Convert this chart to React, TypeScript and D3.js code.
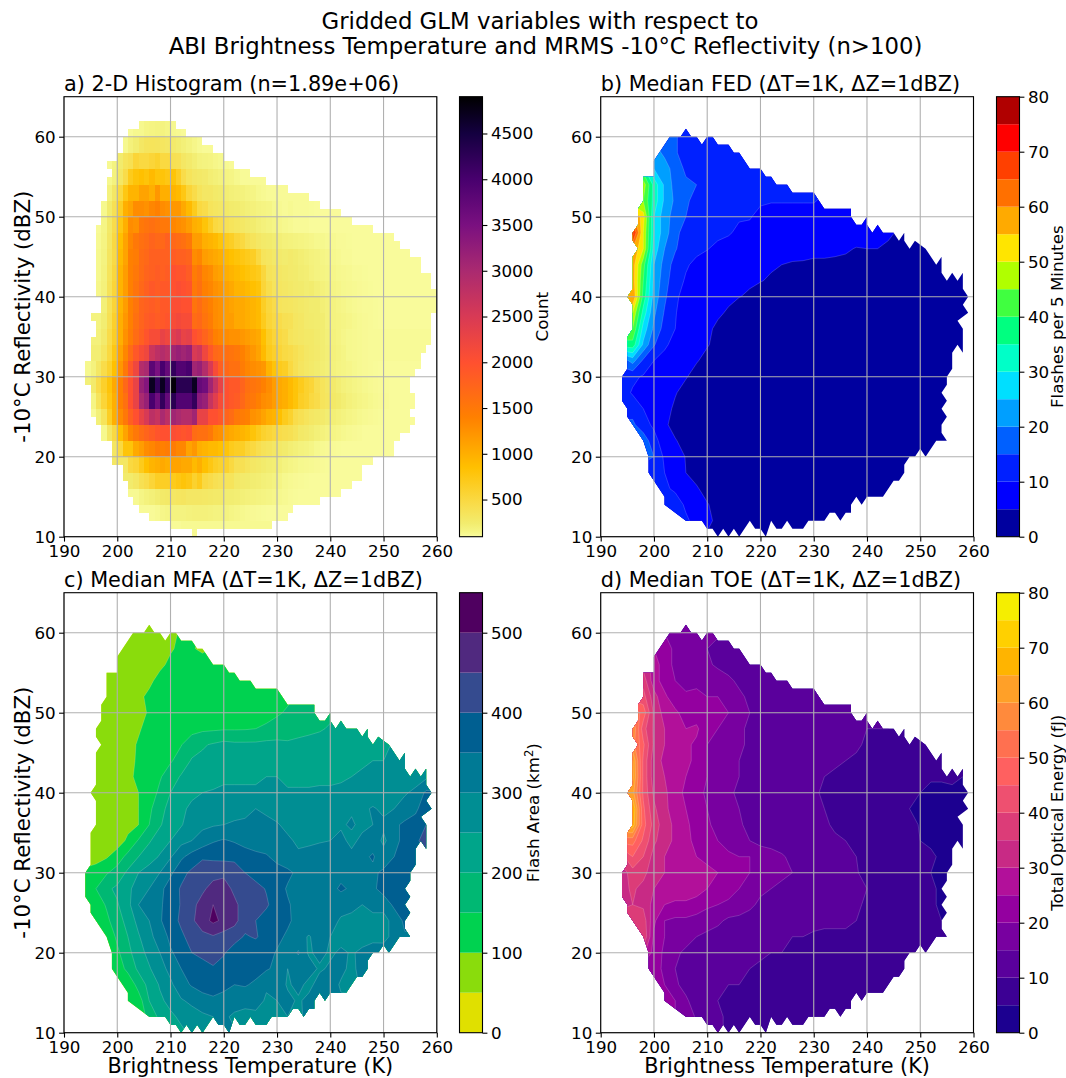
import { useEffect, useRef } from "react";
import * as d3 from "d3";

const _ = null;

// ---- axes and levels
const xTicks = [190, 200, 210, 220, 230, 240, 250, 260];
const yTicks = [10, 20, 30, 40, 50, 60];
const histTicks = [500, 1000, 1500, 2000, 2500, 3000, 3500, 4000, 4500];
const fedLevels = [0, 5, 10, 15, 20, 25, 30, 35, 40, 45, 50, 55, 60, 65, 70, 75, 80];
const mfaLevels = [0, 50, 100, 150, 200, 250, 300, 350, 400, 450, 500, 550];
const toeLevels = fedLevels;

const fedColors = ["#00009f", "#0000ff", "#0020ff", "#0060ff", "#009fff", "#00dfff", "#00ffc8", "#00ff80", "#40ff40", "#b0ff00", "#ffe500", "#ffaa00", "#ff7000", "#ff4000", "#ff0000", "#b00000"];
const mfaColors = ["#e0e000", "#8adc0c", "#00d250", "#00b873", "#00a58a", "#008e93", "#007a95", "#005f91", "#354b8f", "#50297f", "#4f0060"];
const toeColors = ["#1c0090", "#3c0094", "#5a009c", "#7800a0", "#9400a0", "#b2109a", "#c82a85", "#dc3c78", "#ee5070", "#ff6060", "#ff7050", "#ff8a3c", "#ffa028", "#ffb400", "#ffd000", "#f5ee00"];

const histStops = [94, 150, 240, 450, 850, 1400, 2000, 2500, 3000, 3500, 4000, 4500, 4902];
const histStopColors = ["#f9fc9e", "#f5f585", "#f2ec6e", "#f9dc4a", "#ffc000", "#ff8000", "#ff5030", "#d83a55", "#aa2a70", "#7a1080", "#48006e", "#140040", "#000000"];

// ---- histogram cells present, one entry per dBZ starting at 10 (edges in K)
const histLeft = [214, 210, 206, 204, 203, 202, 202, 201, 201, 199, 199, 199, 197, 197, 196, 195, 195, 195, 195, 194, 194, 194, 195, 195, 195, 196, 196, 195, 197, 197, 196, 196, 196, 196, 196, 196, 196, 196, 196, 197, 197, 197, 198, 198, 198, 199, 198, 200, 201, 201, 202, 204];
const histRight = [215, 229, 232, 233, 238, 242, 244, 246, 246, 248, 252, 252, 253, 255, 256, 255, 256, 256, 255, 255, 256, 257, 257, 258, 259, 259, 259, 259, 260, 260, 260, 259, 259, 257, 257, 255, 253, 252, 248, 244, 242, 238, 236, 232, 228, 225, 222, 220, 218, 216, 213, 211];

// ---- perimeter of the median fields, clockwise from the top spike
const outlineT = [206, 207, 208, 209, 210, 211, 212, 214, 215, 216, 218, 220, 221, 222, 223, 225, 226, 230, 232, 237, 237, 238, 239, 240, 240, 241, 242, 243, 245, 246, 247, 247, 248, 249, 251, 253, 254, 254, 255, 256, 257, 258, 258, 259, 258, 259, 257, 258, 258, 257, 256, 256, 255, 255, 254, 255, 254, 255, 254, 254, 255, 253, 251, 250, 249, 248, 247, 247, 246, 245, 243, 240, 239, 238, 237, 237, 236, 235, 234, 233, 232, 229, 228, 226, 225, 224, 223, 222, 221, 220, 219, 218, 216, 215, 214, 213, 212, 211, 210, 209, 206, 204, 202, 202, 199, 199, 198, 195, 195, 194, 194, 195, 195, 196, 196, 195, 196, 196, 197, 196, 196, 197, 197, 198, 198, 200, 200, 203, 205];
const outlineZ = [61, 60, 60, 59, 60, 60, 59, 59, 58, 58, 56, 56, 55, 55, 54, 54, 53, 53, 51, 51, 50, 49, 49, 50, 49, 48, 49, 48, 48, 47, 48, 47, 46, 47, 46, 44, 45, 43, 42, 43, 42, 43, 41, 40, 39, 38, 37, 36, 33, 34, 33, 31, 30, 29, 28, 27, 26, 25, 24, 23, 22, 22, 20, 21, 20, 20, 19, 18, 17, 17, 15, 15, 14, 15, 14, 13, 13, 12, 13, 13, 12, 12, 11, 11, 12, 11, 11, 12, 10, 11, 11, 12, 10, 11, 10, 11, 10, 11, 11, 12, 12, 13, 14, 15, 18, 20, 22, 25, 26, 27, 30, 31, 35, 36, 39, 40, 41, 45, 46, 47, 48, 49, 51, 52, 55, 55, 57, 60, 60];

// ---- histogram counts, 1 K columns, 2 dBZ rows, top row is 60 dBZ; histStart is the first K of each row
const histStart = [202, 201, 198, 198, 197, 197, 196, 196, 196, 196, 196, 196, 196, 196, 196, 194, 194, 195, 195, 197, 199, 201, 202, 203, 206, 210];
const histRows = [
  [110, 130, 130, 150, 160, 170, 170, 150, 130, 120, 110, 100],
  [130, 190, 230, 300, 340, 350, 340, 320, 300, 260, 230, 200, 170, 140, 120, 110],
  [120, 170, 250, 350, 400, 550, 500, 500, 550, 600, 500, 500, 400, 380, 300, 260, 220, 180, 170, 160, 140, 130, 120, 110],
  [130, 180, 300, 450, 700, 800, 850, 800, 900, 800, 800, 750, 800, 650, 450, 350, 300, 280, 260, 220, 200, 180, 160, 150, 130, 110],
  [110, 180, 300, 500, 750, 950, 950, 1100, 1100, 1000, 1200, 1000, 1000, 950, 900, 750, 550, 450, 350, 300, 300, 270, 250, 220, 200, 190, 180, 160, 150, 130, 120, 110],
  [130, 250, 400, 650, 1000, 1100, 1300, 1300, 1250, 1350, 1400, 1300, 1250, 1200, 1200, 1050, 900, 700, 500, 450, 350, 320, 300, 280, 250, 240, 220, 200, 190, 170, 160, 150, 130, 120, 110, 120, 110, 110, 110, 105, 100],
  [110, 150, 280, 450, 750, 1000, 1300, 1250, 1500, 1550, 1600, 1550, 1500, 1500, 1350, 1300, 1250, 1150, 1000, 950, 800, 650, 500, 450, 380, 350, 320, 290, 260, 240, 210, 190, 170, 150, 140, 130, 120, 110, 110, 110, 100],
  [120, 160, 300, 500, 850, 1100, 1350, 1500, 1600, 1650, 1750, 1700, 1700, 1800, 1700, 1650, 1600, 1500, 1150, 1150, 1000, 950, 900, 800, 700, 650, 550, 500, 400, 350, 300, 270, 250, 230, 210, 190, 180, 170, 160, 150, 140, 130, 130, 120, 120, 110, 110, 105, 100, 100],
  [130, 170, 330, 480, 900, 1100, 1400, 1450, 1650, 1700, 1800, 1800, 1800, 1800, 1850, 1800, 1800, 1750, 1300, 1350, 1150, 1100, 1050, 1000, 900, 850, 800, 750, 700, 650, 500, 350, 320, 280, 260, 240, 260, 240, 220, 200, 180, 170, 150, 140, 130, 120, 110, 110, 100, 100, 100, 100, 100],
  [130, 180, 350, 520, 950, 1150, 1400, 1500, 1650, 1750, 1800, 1850, 1800, 1850, 2000, 1950, 1950, 1850, 1450, 1550, 1350, 1300, 1150, 1100, 1000, 950, 900, 850, 800, 750, 700, 520, 360, 330, 300, 280, 260, 250, 230, 220, 190, 170, 160, 150, 140, 130, 125, 120, 110, 110, 105, 100, 100, 100],
  [140, 190, 370, 550, 950, 1150, 1400, 1550, 1700, 1800, 1900, 1850, 1900, 1900, 2000, 2050, 2000, 1950, 1500, 1600, 1400, 1350, 1250, 1200, 1100, 1050, 950, 950, 900, 850, 800, 550, 430, 350, 320, 300, 280, 260, 250, 230, 240, 210, 190, 170, 150, 140, 130, 125, 120, 115, 110, 105, 100, 100],
  [140, 200, 370, 560, 950, 1150, 1400, 1550, 1750, 1800, 1850, 1800, 1900, 1900, 2050, 2050, 2000, 2000, 1550, 1650, 1500, 1400, 1300, 1250, 1150, 1100, 1050, 1050, 1000, 950, 900, 650, 520, 450, 350, 330, 320, 300, 280, 260, 240, 240, 210, 190, 170, 150, 140, 130, 120, 115, 110, 110, 105, 100],
  [170, 230, 400, 620, 1000, 1200, 1400, 1600, 1750, 1850, 1900, 1850, 1900, 1950, 2100, 2150, 2100, 2100, 1650, 1700, 1550, 1450, 1300, 1250, 1150, 1150, 1050, 1050, 1000, 950, 900, 700, 550, 480, 450, 400, 380, 320, 300, 260, 250, 240, 230, 190, 170, 160, 150, 140, 130, 120, 115, 110, 105, 100],
  [190, 260, 450, 650, 1000, 1250, 1450, 1650, 1800, 1950, 2100, 2100, 2300, 2200, 2400, 2500, 2300, 2350, 2000, 1900, 1750, 1600, 1400, 1350, 1300, 1250, 1250, 1200, 1150, 1100, 1050, 850, 650, 550, 500, 450, 350, 320, 300, 280, 280, 250, 230, 200, 180, 160, 140, 130, 125, 120, 115, 110],
  [220, 320, 500, 750, 1100, 1350, 1650, 1900, 2100, 2200, 2650, 2800, 2900, 2800, 3100, 3200, 3100, 3200, 2500, 2600, 2200, 1900, 1700, 1650, 1600, 1550, 1500, 1400, 1300, 1200, 1100, 900, 700, 620, 550, 480, 450, 400, 350, 300, 280, 260, 230, 210, 190, 170, 150, 130, 125, 120, 115, 110],
  [130, 180, 300, 450, 600, 850, 1200, 1500, 1900, 2200, 2900, 3000, 3800, 3500, 4000, 3700, 4200, 3900, 3900, 4000, 3100, 3200, 2900, 2500, 2100, 1800, 1700, 1600, 1600, 1450, 1350, 1300, 1250, 1200, 950, 800, 700, 650, 500, 400, 330, 290, 270, 240, 220, 200, 180, 160, 150, 140, 130, 120, 115, 110, 105, 100],
  [200, 260, 450, 620, 800, 1050, 1400, 1700, 2000, 2300, 3200, 3400, 4700, 4200, 4700, 4200, 4850, 4300, 4300, 4300, 4700, 3700, 3600, 3100, 2700, 2300, 2000, 1900, 1900, 1750, 1600, 1550, 1500, 1400, 1300, 1150, 1050, 1000, 900, 800, 700, 600, 550, 420, 350, 300, 260, 220, 190, 170, 150, 140, 130, 120, 115, 110, 105, 100],
  [150, 350, 550, 750, 1000, 1400, 1600, 2000, 2300, 3000, 3200, 4000, 3600, 4200, 3700, 4300, 3900, 3900, 3900, 4200, 3300, 3200, 2700, 2400, 2100, 2000, 1900, 1850, 1700, 1550, 1500, 1400, 1300, 1250, 1150, 1050, 1000, 900, 800, 650, 600, 500, 450, 350, 320, 280, 250, 220, 190, 170, 150, 140, 130, 120, 115, 110, 100],
  [110, 200, 350, 650, 1000, 1300, 1500, 1800, 2000, 2300, 2500, 2800, 2700, 3000, 2800, 3100, 3000, 2900, 2900, 3100, 2300, 2300, 2000, 2000, 1900, 1750, 1650, 1500, 1450, 1400, 1250, 1200, 1100, 1000, 950, 850, 700, 600, 450, 400, 350, 300, 280, 260, 230, 210, 190, 170, 150, 140, 130, 120, 115, 110, 105, 100],
  [130, 300, 500, 850, 1100, 1350, 1500, 1650, 1750, 1850, 1950, 2000, 2000, 2050, 2000, 1950, 2000, 1650, 1600, 1600, 1500, 1300, 1250, 1100, 1050, 1000, 950, 900, 800, 700, 600, 550, 500, 450, 420, 400, 350, 280, 260, 230, 200, 180, 160, 150, 140, 130, 120, 115, 110, 100],
  [320, 500, 800, 800, 1050, 1150, 1300, 1350, 1450, 1400, 1450, 1450, 1350, 1350, 1100, 1200, 1000, 950, 900, 900, 850, 800, 700, 650, 650, 550, 500, 420, 370, 340, 300, 280, 250, 220, 200, 180, 170, 150, 130, 120, 115, 110, 105, 100, 100],
  [300, 500, 550, 700, 850, 950, 1000, 1050, 1000, 1100, 1100, 1050, 1050, 900, 1000, 850, 750, 650, 600, 600, 500, 400, 400, 350, 300, 280, 250, 230, 220, 200, 170, 150, 140, 130, 125, 120, 115, 110, 105, 100],
  [250, 300, 400, 450, 550, 650, 650, 650, 700, 750, 800, 750, 600, 700, 500, 450, 400, 370, 350, 350, 280, 260, 250, 230, 220, 200, 190, 170, 150, 130, 120, 115, 110, 105, 100, 100],
  [120, 150, 180, 200, 230, 270, 280, 300, 320, 330, 300, 300, 300, 290, 280, 270, 270, 230, 230, 220, 200, 190, 180, 170, 160, 150, 140, 130, 120, 110, 105, 100, 100],
  [110, 120, 140, 150, 170, 170, 170, 180, 190, 190, 190, 180, 170, 170, 170, 150, 140, 130, 120, 115, 110, 105, 100, 100, 100, 100],
  [110, 110, 120, 120, 120, 120],
];

// ---- median fields, 2 K x 2 dBZ nodes, top row is 62 dBZ, first column 194 K
const fedRows = [
  [],
  [_, _, _, _, _, 16, 11, 11, 11],
  [_, _, _, _, 19, 16, 11, 11, 11, 11, 11, 11],
  [_, _, _, 25, 22, 18, 14, 12, 12, 11, 11, 11, 11, 11, 11],
  [_, _, 48, 33, 24, 18, 16, 15, 12, 11, 11, 11, 11, 11, 11, 11],
  [_, _, 45, 33, 24, 19, 16, 13, 12, 11, 11, 11, 11, 11, 10.5, 10.5, 10.5, 10.5, 10.5],
  [_, _, 52, 30, 22, 18, 15, 11.5, 11, 11, 11, 10.5, 10.5, 8, 7, 7, 7, 7, 7, 7, 7, 7, 7],
  [_, 72, 50, 30, 22, 17, 12, 11, 11, 11, 10.5, 9, 8, 7, 7, 7, 7, 7, 7, 7, 7, 7, 7, 6, 5.5, 5.2],
  [_, _, 50, 28, 20, 15.5, 12, 11, 10.2, 9, 8, 7, 7, 7, 7, 7, 7, 6.5, 6.5, 6.5, 6, 5.5, 4.8, 5, 5, 4.8, 4.5, 4, 4],
  [_, 58, 42, 25, 18, 13, 10.5, 9, 8, 7, 7, 7, 6.5, 6, 5.5, 5, 4.5, 4.5, 4, 4, 4, 4, 4, 4, 4, 4, 3, 3, 3, 3, 3],
  [_, 58, 40, 24, 17, 12, 9.5, 8, 7, 7, 6.5, 6, 5.5, 5.2, 4.5, 3, 3, 3, 3, 3, 3, 3, 3, 3, 3, 3, 3, 3, 3, 3, 3, 3, 3],
  [_, 60, 38, 23, 16, 10.5, 9, 8, 7, 6, 5.5, 5.1, 4.5, 3, 3, 3, 3, 3, 3, 3, 3, 3, 3, 3, 3, 3, 3, 3, 3, 3, 3, 3, 3],
  [_, 50, 33, 21, 14.5, 10.2, 8.5, 7, 6, 5.4, 4.7, 3, 3, 3, 3, 3, 3, 3, 3, 3, 3, 3, 3, 3, 3, 3, 3, 3, 3, 3, 3, 3, 3],
  [_, 45, 28, 19, 13, 10, 8, 6.5, 5.5, 4.5, 3, 3, 3, 3, 3, 3, 3, 3, 3, 3, 3, 3, 3, 3, 3, 3, 3, 3, 3, 3, 3, 3, 3],
  [_, 38, 24, 15.5, 10.5, 9, 7, 6, 5.2, 4.2, 3, 3, 3, 3, 3, 3, 3, 3, 3, 3, 3, 3, 3, 3, 3, 3, 3, 3, 3, 3, 3, 3],
  [_, 22, 14, 10, 9, 7.5, 6.5, 5.2, 4.2, 3, 3, 3, 3, 3, 3, 3, 3, 3, 3, 3, 3, 3, 3, 3, 3, 3, 3, 3, 3, 3, 3, 3],
  [12, 11, 9.5, 8.5, 7.5, 6, 5.2, 4, 3, 3, 3, 3, 3, 3, 3, 3, 3, 3, 3, 3, 3, 3, 3, 3, 3, 3, 3, 3, 3, 3, 3],
  [12, 9.5, 8.5, 8, 6.5, 5.2, 4, 3, 3, 3, 3, 3, 3, 3, 3, 3, 3, 3, 3, 3, 3, 3, 3, 3, 3, 3, 3, 3, 3, 3, 3],
  [_, 13, 10, 8, 6, 4.5, 3, 3, 3, 3, 3, 3, 3, 3, 3, 3, 3, 3, 3, 3, 3, 3, 3, 3, 3, 3, 3, 3, 3, 3, 3],
  [_, 16, 12, 9, 5.5, 4, 3, 3, 3, 3, 3, 3, 3, 3, 3, 3, 3, 3, 3, 3, 3, 3, 3, 3, 3, 3, 3, 3, 3, 3, 3],
  [_, _, 18, 12, 7, 5.2, 4, 3, 3, 3, 3, 3, 3, 3, 3, 3, 3, 3, 3, 3, 3, 3, 3, 3, 3, 3, 3, 3, 3, 3, 3],
  [_, _, _, 15, 9, 7, 4.8, 3, 3, 3, 3, 3, 3, 3, 3, 3, 3, 3, 3, 3, 3, 3, 3, 3, 3, 3, 3, 3],
  [_, _, _, 12.5, 10, 7.5, 5, 4, 3, 3, 3, 3, 3, 3, 3, 3, 3, 3, 3, 3, 3, 3, 3, 3, 3, 3, 3],
  [_, _, _, _, 11, 9, 7, 5.3, 4, 3, 3, 3, 3, 3, 3, 3, 3, 3, 3, 3, 3, 3, 3, 3, 3],
  [_, _, _, _, _, 13, 9, 7, 5.2, 4, 3, 3, 3, 3, 3, 3, 3, 3, 3, 3, 3, 3],
  [_, _, _, _, _, _, _, _, 6, 4, 3, 3, 3, 3, 3, 3, 3, 3],
  [_, _, _, _, _, _, _, _, _, 3, 3, 3, 3, 3],
];

const mfaRows = [
  [],
  [_, _, _, _, _, 75, 75, 80, 95],
  [_, _, _, _, 70, 75, 80, 90, 95, 110, 105, 90],
  [_, _, _, 70, 70, 75, 80, 90, 110, 115, 120, 125, 120, 105],
  [_, _, 60, 70, 72, 80, 90, 115, 120, 125, 125, 125, 125, 125, 125, 125],
  [_, _, 60, 70, 75, 90, 110, 125, 125, 125, 125, 125, 125, 125, 125, 125, 125, 125, 130],
  [_, _, 60, 70, 75, 85, 105, 125, 125, 125, 125, 130, 130, 135, 135, 135, 140, 140, 145, 155, 165, 170, 175],
  [_, 60, 65, 70, 80, 95, 115, 125, 130, 135, 135, 140, 142, 145, 145, 146, 150, 155, 165, 170, 180, 190, 195, 205, 210, 215],
  [_, _, 65, 70, 85, 105, 120, 130, 138, 148, 175, 195, 205, 215, 210, 210, 210, 215, 215, 210, 215, 215, 220, 225, 225, 230, 235, 240, 245],
  [_, 60, 65, 75, 90, 105, 120, 135, 145, 170, 205, 210, 215, 220, 225, 225, 225, 225, 225, 225, 225, 225, 230, 235, 240, 240, 245, 250, 250, 260, 265],
  [_, 60, 65, 75, 95, 105, 125, 145, 175, 205, 215, 225, 230, 240, 245, 245, 240, 250, 250, 240, 240, 240, 240, 240, 245, 250, 255, 260, 260, 265, 270, 280, 290],
  [_, 60, 65, 75, 95, 100, 125, 160, 200, 220, 235, 250, 255, 260, 255, 255, 260, 260, 260, 255, 255, 255, 258, 258, 258, 265, 270, 270, 290, 290, 295, 310, 360],
  [_, 60, 65, 75, 90, 100, 140, 180, 220, 235, 265, 270, 275, 280, 285, 285, 300, 285, 275, 270, 265, 265, 265, 270, 275, 290, 290, 305, 290, 300, 320, 340, 380],
  [_, 60, 65, 75, 85, 100, 150, 195, 225, 245, 280, 290, 295, 300, 305, 310, 315, 320, 305, 285, 285, 295, 280, 290, 290, 310, 280, 300, 310, 340, 360, 370, 400],
  [_, 60, 65, 75, 110, 155, 195, 225, 250, 285, 300, 320, 345, 355, 345, 335, 330, 325, 320, 310, 290, 290, 295, 300, 320, 280, 320, 330, 290, 330, 370, 390, 420],
  [_, 75, 95, 125, 165, 200, 225, 255, 295, 340, 370, 395, 390, 385, 390, 370, 360, 355, 335, 320, 310, 320, 330, 325, 320, 320, 340, 355, 320, 350, 370],
  [105, 130, 145, 170, 210, 250, 275, 300, 340, 385, 410, 420, 430, 440, 420, 400, 370, 400, 370, 360, 340, 335, 340, 320, 340, 340, 330, 340, 360, 380, 370],
  [100, 150, 190, 210, 240, 270, 300, 335, 375, 405, 425, 440, 470, 470, 440, 415, 425, 395, 370, 345, 340, 330, 330, 340, 355, 345, 340, 340, 370, 380, 390],
  [_, 125, 155, 195, 235, 300, 320, 345, 365, 405, 435, 470, 500, 480, 460, 430, 420, 410, 365, 355, 335, 340, 335, 340, 330, 320, 300, 310, 320, 360, 370],
  [_, 110, 140, 175, 220, 265, 300, 345, 375, 410, 440, 480, 510, 490, 465, 420, 400, 370, 385, 360, 330, 345, 340, 330, 290, 280, 280, 290, 280, 320, 360],
  [_, _, 110, 160, 200, 245, 285, 325, 360, 390, 420, 435, 445, 430, 420, 395, 405, 380, 365, 340, 320, 295, 330, 300, 280, 270, 280, 275, 290, 310, 345],
  [_, _, _, 140, 185, 230, 265, 300, 345, 365, 400, 410, 420, 405, 375, 365, 370, 370, 345, 320, 355, 290, 320, 290, 310, 295, 310, 340],
  [_, _, _, 120, 165, 210, 245, 280, 315, 350, 370, 385, 395, 380, 365, 355, 370, 355, 340, 300, 320, 330, 290, 310, 320, 280, 330],
  [_, _, _, _, 110, 170, 215, 255, 290, 330, 355, 370, 375, 365, 350, 355, 340, 310, 350, 290, 320, 280, 330, 340, 290],
  [_, _, _, _, _, 125, 200, 240, 265, 295, 310, 330, 340, 330, 325, 315, 330, 290, 300, 320, 290, 320],
  [_, _, _, _, _, _, _, _, 240, 260, 280, 290, 300, 310, 290, 285, 280, 260],
  [_, _, _, _, _, _, _, _, _, 240, 260, 270, 280, 320],
];

const toeRows = [
  [],
  [_, _, _, _, _, 18, 18, 17, 17],
  [_, _, _, _, 22, 19, 17, 16, 15, 14, 14, 13],
  [_, _, _, 28, 22, 19, 17, 17, 16, 14, 13, 14, 15, 14],
  [_, _, 38, 27, 23, 20, 18, 19, 18, 18, 16, 14, 14, 13, 13, 12],
  [_, _, 42, 32, 26, 22, 21, 21, 20, 20, 18, 16, 14, 14, 13, 12, 12, 12, 12],
  [_, _, 48, 34, 28, 26, 23, 22, 21, 20, 20, 16, 15, 14, 13, 13, 13, 12, 12, 12, 12, 12, 12],
  [_, 60, 42, 34, 30, 28, 25, 26, 21, 20, 18, 16, 14, 13, 12, 12, 12, 12, 12, 12, 12, 11, 12, 10, 10, 10],
  [_, _, 46, 34, 30, 28, 26, 24, 20, 18, 17, 16, 14, 13, 12, 12, 12, 12, 12, 12, 12, 12, 11, 9, 9, 9, 9, 9, 9],
  [_, 65, 44, 32, 29, 28, 26, 24, 20, 18, 16, 15, 14, 13, 13, 12, 12, 12, 12, 11, 11, 10, 9, 9, 9, 9, 8, 8, 8, 8, 8],
  [_, 66, 44, 32, 30, 27, 25, 23, 20, 18, 16, 15, 13, 13, 12, 12, 12, 12, 11, 10, 9, 9, 9, 8, 8, 8, 8, 7, 6, 5.5, 6, 6, 5],
  [_, 62, 44, 34, 31, 27, 24, 22, 19, 17, 16, 14, 13, 13, 12, 12, 12, 12, 11, 9, 9, 9, 8, 8, 8, 8, 7, 7, 5, 4, 3, 4, 4],
  [_, 70, 46, 36, 31, 28, 25, 22, 20, 17, 16, 15, 14, 13, 12, 12, 12, 12, 11, 10, 8, 8, 8, 8, 8, 8, 7, 5, 4.5, 4, 4, 4, 4],
  [_, 68, 47, 38, 32, 29, 26, 23, 21, 18, 17, 15.5, 14, 13, 12, 12, 12, 12, 12, 11, 9, 9, 8, 8, 8, 8, 8, 7, 4.5, 4, 4, 4, 4],
  [_, 52, 44, 36, 32, 29, 26, 24, 22, 20, 18, 16.5, 15, 14, 14, 13, 13, 12, 12, 12, 11, 10, 9, 8, 8, 8, 8, 7, 5, 4, 4, 4],
  [_, 45, 40, 33, 30, 28, 26, 25, 24, 23, 21, 20, 20, 17, 16, 15.5, 14, 13, 12, 12, 11, 11, 10, 8, 8, 8, 8, 7, 6, 6, 4],
  [32, 38, 37, 31, 30, 28, 27, 27, 26, 25, 23, 21, 20, 18, 17, 16, 15, 13, 12, 12, 11, 11, 10.5, 8, 8, 8, 8, 7, 6, 5, 4],
  [33, 36, 33, 30, 29, 28, 28, 27, 25, 24, 22, 20, 18, 16, 15, 14, 13, 13, 13, 12, 12, 11, 11, 10, 8, 8, 8, 7, 6, 6, 4],
  [_, 35, 34, 28, 25, 24, 24, 23, 21, 20, 19, 17, 16, 14, 13, 13, 12, 12, 13, 13, 12, 11, 11, 9, 8, 8, 8, 7, 7, 6, 4],
  [_, 38, 38, 26, 20, 19, 19, 18, 17, 16, 14, 14, 13, 12, 12, 11, 11, 10, 12, 11, 11, 12, 10, 8, 8, 8, 8, 7, 7, 6, 5],
  [_, _, 40, 24, 20, 18, 17, 15, 14, 13, 13, 13, 13, 12, 11, 11, 10, 10, 9, 9, 9, 8, 8, 8, 8, 8, 8, 7, 7, 6, 5],
  [_, _, _, 23, 19, 16, 14, 13, 13, 13, 12, 12, 12, 11, 10, 10, 9, 9, 9, 8, 8, 8, 8, 8, 8, 8, 7, 7],
  [_, _, _, 22, 19, 15, 14, 13, 13, 13, 12, 10.5, 10, 9, 9, 9, 8, 8, 8, 8, 8, 8, 8, 8, 8, 8, 7],
  [_, _, _, _, 20, 16, 13, 12, 12, 11, 10, 10, 9, 9, 9, 8, 8, 8, 8, 8, 8, 8, 8, 8, 8],
  [_, _, _, _, _, 20, 16, 12, 12, 10, 9, 9, 9, 8, 8, 8, 8, 8, 8, 8, 8, 8],
  [_, _, _, _, _, _, _, _, 13, 11, 9, 9, 8, 9, 8, 8, 8, 8],
  [_, _, _, _, _, _, _, _, _, 12, 8, 9, 8, 8],
];

const title1 = "Gridded GLM variables with respect to";
const title2 = "ABI Brightness Temperature and MRMS -10°C Reflectivity (n>100)";
const fontFamily = "'DejaVu Sans', sans-serif";

// nodes with no reading take the value of their neighbours, only ever seen outside the clip
function fillGrid(rows: (number | null)[][], nCols: number) {
  const g = rows.map(r => d3.range(nCols).map(i => (r[i] == null ? null : r[i])));
  let open = true;
  while (open) {
    open = false;
    const snapshot = g.map(r => r.slice());
    g.forEach((r, j) => r.forEach((v, i) => {
      if (v !== null) return;
      const around = [snapshot[j - 1]?.[i], snapshot[j + 1]?.[i], r[i - 1], r[i + 1]].filter(a => a != null) as number[];
      if (around.length) r[i] = d3.mean(around) as number;
      else open = true;
    }));
  }
  return g;
}

function makeAxes(g: any, x: any, y: any, w: number, h: number) {
  const grid = g.append("g");
  xTicks.forEach(t => grid.append("line").attr("x1", x(t)).attr("x2", x(t)).attr("y1", 0).attr("y2", h));
  yTicks.forEach(t => grid.append("line").attr("x1", 0).attr("x2", w).attr("y1", y(t)).attr("y2", y(t)));
  grid.selectAll("line").attr("stroke", "#b0b0b0").attr("stroke-width", 1.1);

  const bottom = g.append("g").attr("transform", `translate(0,${h})`)
    .call(d3.axisBottom(x).tickValues(xTicks).tickFormat(d3.format("d")).tickSize(4.9).tickPadding(3.5));
  const left = g.append("g")
    .call(d3.axisLeft(y).tickValues(yTicks).tickFormat(d3.format("d")).tickSize(4.9).tickPadding(3.5));
  [bottom, left].forEach(a => {
    a.select(".domain").remove();
    a.selectAll("line").attr("stroke", "#000").attr("stroke-width", 1.1);
    a.selectAll("text").attr("fill", "#000").style("font-size", "16.7px").style("font-family", fontFamily);
  });
  g.append("rect").attr("width", w).attr("height", h).attr("fill", "none").attr("stroke", "#000").attr("stroke-width", 1.1);
}

function App() {
  const ref = useRef<SVGSVGElement>(null);

  useEffect(() => {
    const svg = d3.select(ref.current);
    svg.selectAll("*").remove();

    const w = 372.8;
    const h = 440;
    const x = d3.scaleLinear().domain([190, 260]).range([0, w]);
    const y = d3.scaleLinear().domain([10, 65]).range([h, 0]);
    const nCols = 34;
    const nRows = 27;

    const label = (px: number, py: number, text: string, size: number, anchor = "middle", rotate = 0) =>
      svg.append("text")
        .attr("transform", `translate(${px},${py}) rotate(${rotate})`)
        .attr("text-anchor", anchor)
        .attr("fill", "#000")
        .style("font-family", fontFamily)
        .style("font-size", `${size}px`)
        .text(text);

    label(540, 29, title1, 22.8);
    label(545.5, 54, title2, 22.8);

    const contourPanel = (g: any, id: string, rows: any, levels: number[], colors: string[]) => {
      const line = d3.line<number>().x(i => x(outlineT[i])).y(i => y(outlineZ[i]));
      g.append("clipPath").attr("id", id).append("path").attr("d", line(d3.range(outlineT.length)) + "Z");
      const values = fillGrid(rows, nCols).flat() as number[];
      const toPx = d3.geoTransform({
        point(cx: number, cy: number) {
          (this as any).stream.point(x(194 + 2 * (cx - 0.5)), y(62 - 2 * (cy - 0.5)));
        },
      });
      const path = d3.geoPath(toPx);
      const bands = d3.contours().size([nCols, nRows]).smooth(true).thresholds(levels.slice(0, -1))(values);
      g.append("g").attr("clip-path", `url(#${id})`)
        .selectAll("path").data(bands).join("path")
        .attr("d", (d: any) => path(d))
        .attr("fill", (_d: any, i: number) => colors[i])
        .attr("stroke", "#fff")
        .attr("stroke-opacity", 0.35)
        .attr("stroke-width", 0.5);
    };

    const histColor = d3.scaleLinear<string>().domain(histStops).range(histStopColors);

    const histogramPanel = (g: any) => {
      const cells: { t: number; z: number; v: number }[] = [];
      histLeft.forEach((l, i) => {
        const row = 25 - Math.floor(i / 2);
        const vals = histRows[row];
        d3.range(l, histRight[i]).forEach(t => {
          const k = Math.max(0, Math.min(vals.length - 1, t - histStart[row]));
          cells.push({ t, z: 10 + i, v: vals[k] });
        });
      });
      g.append("g").selectAll("rect").data(cells).join("rect")
        .attr("x", (d: any) => x(d.t))
        .attr("y", (d: any) => y(d.z + 1))
        .attr("width", x(1) - x(0))
        .attr("height", y(0) - y(1))
        .attr("fill", (d: any) => histColor(d.v))
        .attr("shape-rendering", "crispEdges");
    };

    const finishBar = (g: any, cy: any, ticks: number[]) => {
      g.append("rect").attr("width", 23).attr("height", h).attr("fill", "none").attr("stroke", "#000").attr("stroke-width", 1.1);
      const a = g.append("g").attr("transform", "translate(23,0)")
        .call(d3.axisRight(cy).tickValues(ticks).tickFormat(d3.format("d")).tickSize(4.9).tickPadding(3.5));
      a.select(".domain").remove();
      a.selectAll("line").attr("stroke", "#000").attr("stroke-width", 1.1);
      a.selectAll("text").attr("fill", "#000").style("font-size", "16.7px").style("font-family", fontFamily);
    };

    const levelBar = (g: any, levels: number[], colors: string[], ticks: number[]) => {
      const cy = d3.scaleLinear().domain([levels[0], levels[levels.length - 1]]).range([h, 0]);
      g.selectAll("rect.band").data(colors).join("rect").attr("class", "band")
        .attr("x", 0).attr("width", 23)
        .attr("y", (_d: any, i: number) => cy(levels[i + 1]))
        .attr("height", (_d: any, i: number) => cy(levels[i]) - cy(levels[i + 1]))
        .attr("fill", (d: any) => d);
      finishBar(g, cy, ticks);
    };

    const histBar = (g: any) => {
      const lo = histStops[0];
      const hi = histStops[histStops.length - 1];
      const cy = d3.scaleLinear().domain([lo, hi]).range([h, 0]);
      const grad = g.append("linearGradient").attr("id", "histRamp")
        .attr("x1", 0).attr("x2", 0).attr("y1", 1).attr("y2", 0);
      histStops.forEach((v, i) => grad.append("stop")
        .attr("offset", (v - lo) / (hi - lo))
        .attr("stop-color", histStopColors[i]));
      g.append("rect").attr("width", 23).attr("height", h).attr("fill", "url(#histRamp)");
      finishBar(g, cy, histTicks);
    };

    const panels = [
      { id: "a", left: 64, top: 96.7, title: "a) 2-D Histogram (n=1.89e+06)", barX: 459.5, barLabel: "Count", labelX: 548 },
      { id: "b", left: 600.7, top: 96.7, title: "b) Median FED (ΔT=1K, ΔZ=1dBZ)", barX: 996.5, barLabel: "Flashes per 5 Minutes", labelX: 1063 },
      { id: "c", left: 64, top: 592.7, title: "c) Median MFA (ΔT=1K, ΔZ=1dBZ)", barX: 459.5, barLabel: "Flash Area (km", labelX: 539 },
      { id: "d", left: 600.7, top: 592.7, title: "d) Median TOE (ΔT=1K, ΔZ=1dBZ)", barX: 996.5, barLabel: "Total Optical Energy (fJ)", labelX: 1063 },
    ];

    panels.forEach(p => {
      const g = svg.append("g").attr("transform", `translate(${p.left},${p.top})`);
      if (p.id === "a") histogramPanel(g);
      if (p.id === "b") contourPanel(g, "clipb", fedRows, fedLevels, fedColors);
      if (p.id === "c") contourPanel(g, "clipc", mfaRows, mfaLevels, mfaColors);
      if (p.id === "d") contourPanel(g, "clipd", toeRows, toeLevels, toeColors);
      makeAxes(g, x, y, w, h);

      label(p.left, p.top - 6, p.title, 20.8, "start");

      const bar = svg.append("g").attr("transform", `translate(${p.barX},${p.top})`);
      if (p.id === "a") histBar(bar);
      if (p.id === "b") levelBar(bar, fedLevels, fedColors, fedLevels.filter(v => v % 10 === 0));
      if (p.id === "c") levelBar(bar, mfaLevels, mfaColors, mfaLevels.filter(v => v % 100 === 0));
      if (p.id === "d") levelBar(bar, toeLevels, toeColors, toeLevels.filter(v => v % 10 === 0));
      const barText = label(p.labelX, p.top + h / 2, p.barLabel, 16.7, "middle", -90);
      if (p.id === "c") {
        barText.append("tspan").attr("dy", -6).style("font-size", "11.7px").text("2");
        barText.append("tspan").attr("dy", 6).text(")");
      }

      if (p.left < 100) label(30, p.top + h / 2, "-10°C Reflectivity (dBZ)", 21.3, "middle", -90);
      if (p.top > 500) label(p.left + w / 2, 1073, "Brightness Temperature (K)", 20.8);
    });
  }, []);

  return (
    <svg
      ref={ref}
      width={1066}
      height={1078}
      style={{ position: "absolute", left: 0, top: 0, display: "block", background: "#fff" }}
    />
  );
}

export default App;
